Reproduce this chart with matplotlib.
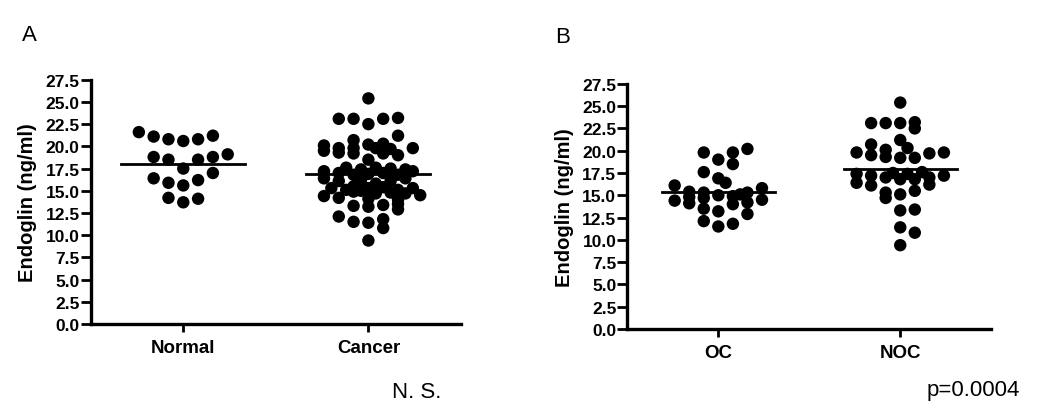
import numpy as np
import matplotlib
matplotlib.use('Agg')
import matplotlib.pyplot as plt

plt.rcParams['font.family'] = ['Liberation Sans', 'DejaVu Sans']

# 패널 A: Normal vs Cancer
groups_a = ['Normal', 'Cancer']
normal = [21.6, 21.1, 20.8, 20.6, 20.8, 21.2, 18.8, 18.5, 18.5, 18.8,
          19.1, 17.5, 17.0, 16.4, 15.9, 15.6, 16.2, 14.2, 13.7, 14.1]
normal_slot = [-3, -2, -1, 0, 1, 2, -2, -1, 1, 2,
               3, 0, 2, -2, -1, 0, 1, -1, 0, 1]

cancer = [25.4, 23.1, 23.1, 22.5, 23.1, 23.2, 21.2, 20.7,
          20.1, 19.5, 19.8, 19.3, 19.8, 19.2, 20.2, 19.8, 20.3, 19.2, 19.7, 19.0, 19.8,
          18.5,
          17.2, 17.0, 17.6, 16.8, 17.4, 16.9, 17.6, 17.0, 17.5, 16.8, 17.4, 17.2,
          16.4, 16.1, 16.1, 16.4, 16.2,
          15.5, 15.8, 15.3, 15.1, 15.0, 15.3, 15.4, 15.1, 15.3,
          14.4, 14.2, 14.9, 14.1, 14.7, 14.8, 14.0, 14.7, 14.5,
          13.3, 13.2, 13.4, 13.5, 12.9,
          12.1, 11.5, 11.4, 11.8, 10.8, 9.4]
cancer_slot = [0, -2, -1, 0, 1, 2, 2, -1,
               -3, -3, -2, -2, -1, -1, 0, 0.5, 1, 1, 1.5, 2, 3,
               0,
               -3, -2, -1.5, -1, -0.5, 0, 0.5, 1, 1.5, 2, 2.5, 3,
               -3, -2, 1.5, 2.5, -0.5,
               -1, 0.5, -2.5, -1.5, -0.5, 0, 1, 2, 3,
               -3, -2, -1, 0, 0.5, 1.5, 2, 2.5, 3.5,
               -1, 0, 1, 2, 2,
               -2, -1, 0, 1, 1, 0]

# 패널 B: OC vs NOC
groups_b = ['OC', 'NOC']
oc = [16.1, 14.4, 15.4, 14.8, 14.1, 19.8, 17.6, 15.3, 14.7, 13.5,
      12.1, 19.0, 16.9, 15.0, 13.2, 11.5, 16.4, 19.8, 18.5, 14.9,
      14.0, 11.8, 15.1, 20.2, 15.3, 14.2, 12.9, 15.8, 14.5]
oc_slot = [-3, -3, -2, -2, -2, -1, -1, -1, -1, -1,
           -1, 0, 0, 0, 0, 0, 0.5, 1, 1, 1,
           1, 1, 1.5, 2, 2, 2, 2, 3, 3]

noc = [25.4, 23.1, 23.1, 23.1, 23.2, 22.5, 21.2, 20.7, 20.1, 20.3,
       19.8, 19.5, 19.3, 19.2, 19.2, 19.7, 19.8,
       17.4, 16.4, 17.2, 16.1, 17.0, 17.5, 16.8, 17.4, 16.8, 17.6, 17.0, 16.2, 17.2,
       15.3, 14.7, 15.1, 15.5, 13.3, 13.4, 11.4, 10.8, 9.4]
noc_slot = [0, -2, -1, 0, 1, 1, 0, -2, -1, 0.5,
            -3, -2, -1, 0, 1, 2, 3,
            -3, -3, -2, -2, -1, -0.5, 0, 0.5, 1, 1.5, 2, 2, 3,
            -1, -1, 0, 1, 0, 1, 0, 1, 0]

yticks = np.arange(0, 27.6, 2.5)


def draw_panel(ax, names, vals, slots, half, label_x):
    for i, (v, s) in enumerate(zip(vals, slots)):
        x = i + np.array(s) * 0.08
        ax.scatter(x, v, s=80, color='black', edgecolors='none', zorder=3)
        m = np.mean(v)
        ax.plot([i - half, i + half], [m, m], color='black', lw=2.0, zorder=4)

    ax.set_xlim(-0.5, 1.5)
    ax.set_ylim(0, 27.5)
    ax.set_yticks(yticks)
    ax.yaxis.set_major_formatter('{x:.1f}')
    ax.set_xticks([0, 1])
    ax.set_xticklabels(names, fontsize=13.5, fontweight='bold')
    for lab in ax.get_yticklabels():
        lab.set_fontweight('bold')
    ax.spines['top'].set_visible(False)
    ax.spines['right'].set_visible(False)
    ax.spines['left'].set_linewidth(2.4)
    ax.spines['bottom'].set_linewidth(2.4)
    ax.tick_params(axis='y', length=7.5, width=2, labelsize=12.5, pad=0.5)
    ax.tick_params(axis='x', length=6, width=2, labelsize=13.5, pad=5)
    ax.set_ylabel('Endoglin (ng/ml)', fontsize=14.5, fontweight='bold')
    ax.yaxis.set_label_coords(label_x, 0.5)


fig = plt.figure(figsize=(10.5, 4.14), dpi=100)

ax1 = fig.add_axes([0.0864, 0.215, 0.3526, 0.590])
draw_panel(ax1, groups_a, [normal, cancer], [normal_slot, cancer_slot], 0.335, -0.146)

ax2 = fig.add_axes([0.5975, 0.203, 0.3465, 0.592])
draw_panel(ax2, groups_b, [oc, noc], [oc_slot, noc_slot], 0.31, -0.148)

fig.text(22 / 1050, 1 - 41 / 414, 'A', fontsize=16)
fig.text(555 / 1050, 1 - 43 / 414, 'B', fontsize=16)
fig.text(392 / 1050, 1 - 398 / 414, 'N. S.', fontsize=16)
fig.text(1020 / 1050, 1 - 396 / 414, 'p=0.0004', fontsize=16, ha='right')

plt.savefig('out.png', dpi=100)
